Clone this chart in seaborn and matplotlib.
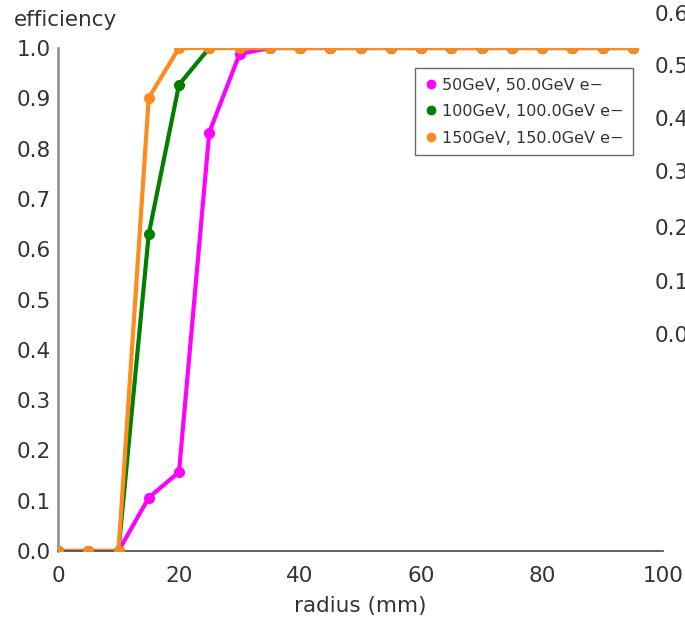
import matplotlib
matplotlib.use("Agg")
import matplotlib.pyplot as plt
import seaborn as sns
import pandas as pd
from matplotlib.lines import Line2D

radius = [0, 5, 10, 15, 20, 25, 30, 35, 40, 45, 50, 55, 60, 65, 70, 75, 80, 85, 90, 95]
eff_50 = [0, 0, 0, 0.106, 0.157, 0.832, 0.988, 1.0, 1, 1, 1, 1, 1, 1, 1, 1, 1, 1, 1, 1]
eff_100 = [0, 0, 0, 0.630, 0.927, 1.0, 1, 1, 1, 1, 1, 1, 1, 1, 1, 1, 1, 1, 1, 1]
eff_150 = [0, 0, 0, 0.901, 1.0, 1, 1, 1, 1, 1, 1, 1, 1, 1, 1, 1, 1, 1, 1, 1]
labels = ["50GeV, 50.0GeV e\u2212", "100GeV, 100.0GeV e\u2212", "150GeV, 150.0GeV e\u2212"]
colors = ["#ff00ff", "#007f00", "#ff8a1e"]
ghost_ticks = ["0.6", "0.5", "0.4", "0.3", "0.2", "0.1", "0.0"]

rows = []
for lab, vals in zip(labels, [eff_50, eff_100, eff_150]):
    for r, v in zip(radius, vals):
        rows.append({"radius": r, "efficiency": v, "series": lab})
df = pd.DataFrame(rows)

sns.set_style("white")
plt.rcParams['font.family'] = ['DejaVu Sans']
FS = 15.5

fig = plt.figure(figsize=(6.85, 6.17), dpi=100)
ax = fig.add_axes([58/685, 66/617, 605/685, 503/617])

pal = dict(zip(labels, colors))
for lab in labels:
    sub = df[df["series"] == lab]
    sns.lineplot(data=sub, x="radius", y="efficiency", color=pal[lab],
                 linewidth=3, ax=ax, legend=False)
    sns.scatterplot(data=sub, x="radius", y="efficiency", color=pal[lab],
                    s=64, linewidth=0, ax=ax, legend=False, zorder=3)
for art in list(ax.lines) + list(ax.collections):
    art.set_clip_on(True)
    art.set_clip_path(ax.patch)

ax.set_xlim(0, 100)
ax.set_ylim(0, 1.0)
ax.set_xticks([0, 20, 40, 60, 80, 100])
ax.set_yticks([i / 10 for i in range(11)])
ax.set_yticklabels([f"{i/10:.1f}" for i in range(11)])
ax.tick_params(direction="inout", length=8, width=1.2, labelsize=FS,
               labelcolor="#333333")
ax.tick_params(axis="y", color="#888888", pad=1)
ax.tick_params(axis="x", color="#444444", pad=7)
for s in ["top", "right"]:
    ax.spines[s].set_visible(False)
ax.spines["left"].set_color("#888888")
ax.spines["left"].set_linewidth(1.8)
ax.spines["bottom"].set_color("#444444")
ax.spines["bottom"].set_linewidth(1.2)
ax.set_xlabel("radius (mm)", fontsize=FS, color="#333333", labelpad=7)
ax.set_ylabel("")
fig.text(14/685, 1 - 20/617, "efficiency", fontsize=FS, color="#333333",
         ha="left", va="center")

handles = [Line2D([], [], marker="o", linestyle="none", color=c, markersize=6)
           for c in colors]
leg = ax.legend(handles, labels, loc="upper left", bbox_to_anchor=(357/605, 1 - 20/503),
                fontsize=11.5, frameon=True, fancybox=False, edgecolor="#444444",
                handletextpad=0.3, borderpad=0.6, labelspacing=0.72,
                handlelength=0.8, borderaxespad=0)
leg.get_frame().set_linewidth(1.0)
leg.set_zorder(5)
for t in leg.get_texts():
    t.set_color("#333333")

ghost_y = [15, 67, 120, 173, 229, 283, 336]
for lab, yy in zip(ghost_ticks, ghost_y):
    fig.text(655/685, 1 - yy/617, lab, fontsize=FS, color="#333333",
             ha="left", va="center")

fig.savefig("out.png", dpi=100)
